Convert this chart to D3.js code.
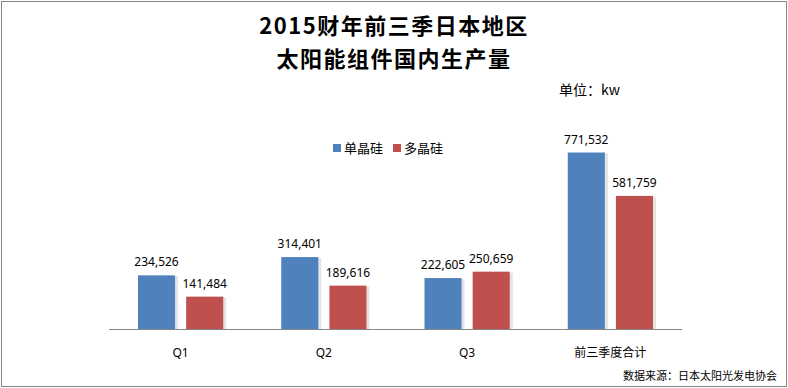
<!DOCTYPE html>
<html>
<head>
<meta charset="utf-8">
<script src="https://cdn.jsdelivr.net/npm/d3@7/dist/d3.min.js"></script>
<style>
  body { margin: 0; background: #fff; }
  svg text { font-family: "Noto Sans", "Noto Sans CJK SC", sans-serif; fill: #000; }
</style>
</head>
<body>
<div id="chart"></div>
<script>
// data
var categories = ['Q1', 'Q2', 'Q3', '前三季度合计'];
var seriesNames = ['单晶硅', '多晶硅'];
var mono = [234526, 314401, 222605, 771532];
var poly = [141484, 189616, 250659, 581759];
var colors = ['#4F81BD', '#C0504D'];

var width = 788, height = 388;
var svg = d3.select('#chart').append('svg')
  .attr('width', width)
  .attr('height', height);

// outer frame
svg.append('rect')
  .attr('x', 1.5).attr('y', 1.5)
  .attr('width', width - 3).attr('height', height - 3)
  .attr('fill', '#fff')
  .attr('stroke', '#868686')
  .attr('stroke-width', 1);

// title
var title = svg.append('text')
  .attr('text-anchor', 'middle')
  .style('font-family', '"Noto Sans CJK SC", sans-serif')
  .style('font-weight', 'bold')
  .style('font-size', '22px')
  .style('letter-spacing', '1.5px');
title.append('tspan').attr('x', 394).attr('y', 34).text('2015财年前三季日本地区');
title.append('tspan').attr('x', 394).attr('y', 67).text('太阳能组件国内生产量');

svg.append('text')
  .attr('x', 559).attr('y', 95)
  .style('font-family', '"Noto Sans CJK SC", sans-serif')
  .style('font-size', '14px')
  .text('单位：kw');

// scales
var x0 = d3.scaleBand().domain(categories).range([109, 682]);
var x1 = d3.scaleBand().domain(seriesNames).range([29, x0.bandwidth() - 29]).paddingInner(0.23);
var y = d3.scaleLinear().domain([0, 800000]).range([329, 146]);

var rows = categories.map(function(c, i) {
  return {cat: c, vals: [mono[i], poly[i]]};
});

var groups = svg.selectAll('g.grp')
  .data(rows)
  .enter().append('g')
  .attr('class', 'grp')
  .attr('transform', function(d) { return 'translate(' + x0(d.cat) + ',0)'; });

var bars = groups.selectAll('g.bar')
  .data(function(d) {
    return d.vals.map(function(v, j) { return {name: seriesNames[j], value: v, j: j}; });
  })
  .enter().append('g').attr('class', 'bar');

// soft shadow
bars.append('rect')
  .attr('x', function(d) { return x1(d.name) + 1; })
  .attr('y', function(d) { return y(d.value) + 1; })
  .attr('width', x1.bandwidth() + 2)
  .attr('height', function(d) { return y(0) - y(d.value) - 1; })
  .attr('fill', '#e4e4e4');

bars.append('rect')
  .attr('x', function(d) { return x1(d.name); })
  .attr('y', function(d) { return y(d.value); })
  .attr('width', x1.bandwidth())
  .attr('height', function(d) { return y(0) - y(d.value); })
  .attr('fill', function(d) { return colors[d.j]; });

bars.append('text')
  .attr('x', function(d) { return x1(d.name) + x1.bandwidth() / 2; })
  .attr('y', function(d) { return y(d.value) - 9; })
  .attr('text-anchor', 'middle')
  .style('font-size', '12px')
  .text(function(d) { return d3.format(',')(d.value); });

// axis line
svg.append('line')
  .attr('x1', x0.range()[0]).attr('x2', x0.range()[1])
  .attr('y1', y(0) + 0.5).attr('y2', y(0) + 0.5)
  .attr('stroke', '#868686');

svg.selectAll('text.cat')
  .data(categories)
  .enter().append('text')
  .attr('class', 'cat')
  .attr('x', function(d) { return x0(d) + x0.bandwidth() / 2; })
  .attr('y', 357)
  .attr('text-anchor', 'middle')
  .style('font-family', '"Noto Sans", "Noto Sans CJK SC", sans-serif')
  .style('font-size', '12px')
  .text(function(d) { return d; });

// legend
var legend = svg.selectAll('g.leg')
  .data(seriesNames)
  .enter().append('g')
  .attr('class', 'leg')
  .attr('transform', function(d, i) { return 'translate(' + (333 + i * 60) + ',0)'; });
legend.append('rect')
  .attr('x', 0).attr('y', 144)
  .attr('width', 8).attr('height', 8)
  .attr('fill', function(d, i) { return colors[i]; });
legend.append('text')
  .attr('x', 11).attr('y', 153)
  .style('font-family', '"Noto Sans CJK SC", sans-serif')
  .style('font-size', '13px')
  .text(function(d) { return d; });

// source
svg.append('text')
  .attr('x', 777).attr('y', 380)
  .attr('text-anchor', 'end')
  .style('font-family', '"Noto Sans CJK SC", sans-serif')
  .style('font-size', '11px')
  .text('数据来源：日本太阳光发电协会');
</script>
</body>
</html>
